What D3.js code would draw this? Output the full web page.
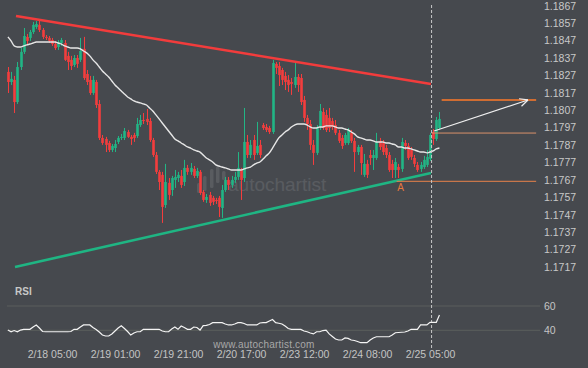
<!DOCTYPE html>
<html><head><meta charset="utf-8">
<script src="https://cdn.jsdelivr.net/npm/d3@7/dist/d3.min.js"></script>
<style>
html,body{margin:0;padding:0;background:#46494e;}
svg{display:block;}
text{font-family:"Liberation Sans",Arial,sans-serif;}
</style></head>
<body>
<svg id="c" width="588" height="368"></svg>
<script>
// ---- data ----
const opens = [1.18288,1.18230,1.18242,1.18115,1.18316,1.18403,1.18489,1.18483,1.18517,1.18546,1.18558,1.18529,1.18489,1.18483,1.18471,1.18448,1.18431,1.18454,1.18454,1.18380,1.18357,1.18328,1.18368,1.18357,1.18420,1.18276,1.18242,1.18167,1.18230,1.18104,1.17909,1.17903,1.17880,1.17840,1.17851,1.17886,1.17909,1.17909,1.17943,1.17915,1.17926,1.17920,1.17983,1.18012,1.18018,1.18006,1.17897,1.17811,1.17714,1.17697,1.17524,1.17651,1.17610,1.17668,1.17679,1.17691,1.17656,1.17737,1.17714,1.17731,1.17691,1.17714,1.17599,1.17553,1.17582,1.17565,1.17553,1.17565,1.17507,1.17610,1.17668,1.17639,1.17668,1.17685,1.17725,1.17679,1.17886,1.17811,1.17897,1.17823,1.17869,1.17983,1.17972,1.17966,1.17943,1.18334,1.18322,1.18299,1.18265,1.18242,1.18230,1.18213,1.18259,1.18253,1.18127,1.18024,1.17989,1.17869,1.17823,1.17972,1.18058,1.18041,1.18024,1.18006,1.17983,1.17938,1.17909,1.17880,1.17880,1.17938,1.17892,1.17828,1.17857,1.17697,1.17760,1.17811,1.17794,1.17794,1.17892,1.17880,1.17851,1.17811,1.17760,1.17725,1.17742,1.17731,1.17880,1.17863,1.17840,1.17794,1.17754,1.17731,1.17742,1.17754,1.17788,1.17943,1.17903,1.17966];
const highs = [1.18316,1.18288,1.18265,1.18345,1.18425,1.18540,1.18506,1.18529,1.18575,1.18580,1.18586,1.18540,1.18500,1.18494,1.18483,1.18466,1.18471,1.18483,1.18471,1.18403,1.18380,1.18385,1.18385,1.18483,1.18489,1.18299,1.18265,1.18265,1.18242,1.18127,1.17926,1.17915,1.17892,1.17874,1.17897,1.17920,1.17932,1.17966,1.17955,1.17926,1.17938,1.18024,1.18041,1.18052,1.18075,1.18024,1.17909,1.17828,1.17725,1.17714,1.17760,1.17679,1.17691,1.17725,1.17714,1.17725,1.17783,1.17754,1.17765,1.17748,1.17737,1.17725,1.17610,1.17587,1.17599,1.17576,1.17565,1.17576,1.17639,1.17685,1.17685,1.17691,1.17714,1.17828,1.17737,1.18081,1.17926,1.17897,1.17926,1.18001,1.17897,1.17995,1.17989,1.17978,1.18357,1.18345,1.18345,1.18311,1.18288,1.18270,1.18253,1.18339,1.18276,1.18276,1.18150,1.18041,1.18012,1.17897,1.17983,1.18104,1.18081,1.18070,1.18081,1.18024,1.18012,1.17955,1.17926,1.17938,1.17966,1.17955,1.17909,1.17869,1.17869,1.17817,1.17783,1.17840,1.17840,1.17938,1.17909,1.17897,1.17869,1.17828,1.17783,1.17794,1.17760,1.17909,1.17897,1.17880,1.17857,1.17811,1.17771,1.17771,1.17806,1.17840,1.17938,1.17960,1.18029,1.18058];
const lows = [1.18167,1.18213,1.18052,1.18104,1.18299,1.18391,1.18448,1.18466,1.18506,1.18535,1.18517,1.18477,1.18471,1.18454,1.18437,1.18414,1.18414,1.18437,1.18351,1.18299,1.18299,1.18316,1.18311,1.18345,1.18242,1.18213,1.18156,1.18156,1.18081,1.17897,1.17869,1.17828,1.17828,1.17828,1.17828,1.17874,1.17897,1.17897,1.17909,1.17869,1.17886,1.17909,1.17972,1.17989,1.17983,1.17886,1.17800,1.17702,1.17610,1.17421,1.17507,1.17553,1.17576,1.17622,1.17656,1.17622,1.17633,1.17697,1.17697,1.17679,1.17679,1.17582,1.17542,1.17536,1.17519,1.17524,1.17530,1.17455,1.17450,1.17599,1.17610,1.17622,1.17651,1.17668,1.17553,1.17656,1.17794,1.17794,1.17783,1.17811,1.17794,1.17955,1.17943,1.17932,1.17932,1.18276,1.18207,1.18213,1.18184,1.18173,1.18156,1.18196,1.18173,1.18098,1.18001,1.17955,1.17840,1.17754,1.17811,1.17955,1.17955,1.17943,1.17943,1.17955,1.17926,1.17880,1.17846,1.17869,1.17869,1.17880,1.17714,1.17811,1.17697,1.17685,1.17679,1.17754,1.17725,1.17783,1.17840,1.17811,1.17794,1.17714,1.17679,1.17679,1.17679,1.17714,1.17840,1.17783,1.17783,1.17742,1.17714,1.17714,1.17731,1.17742,1.17777,1.17869,1.17892,1.17955];
const closes = [1.18230,1.18248,1.18115,1.18316,1.18403,1.18494,1.18466,1.18517,1.18558,1.18563,1.18529,1.18489,1.18483,1.18466,1.18448,1.18425,1.18460,1.18471,1.18357,1.18345,1.18322,1.18368,1.18334,1.18408,1.18253,1.18230,1.18167,1.18242,1.18098,1.17909,1.17880,1.17869,1.17840,1.17863,1.17874,1.17909,1.17915,1.17949,1.17915,1.17903,1.17909,1.17989,1.18012,1.18006,1.18001,1.17897,1.17811,1.17714,1.17656,1.17513,1.17656,1.17582,1.17679,1.17685,1.17697,1.17639,1.17737,1.17714,1.17737,1.17691,1.17719,1.17593,1.17553,1.17570,1.17536,1.17542,1.17547,1.17513,1.17610,1.17668,1.17639,1.17668,1.17685,1.17737,1.17668,1.17886,1.17811,1.17869,1.17811,1.17863,1.17811,1.17966,1.17955,1.17943,1.18339,1.18311,1.18270,1.18242,1.18230,1.18213,1.18219,1.18259,1.18213,1.18115,1.18024,1.17989,1.17869,1.17823,1.17972,1.18064,1.17966,1.17955,1.17966,1.17972,1.17938,1.17892,1.17863,1.17926,1.17955,1.17892,1.17828,1.17857,1.17765,1.17760,1.17697,1.17794,1.17811,1.17886,1.17857,1.17828,1.17811,1.17725,1.17725,1.17771,1.17725,1.17886,1.17863,1.17794,1.17800,1.17760,1.17725,1.17754,1.17783,1.17800,1.17926,1.17903,1.18012,1.18018];
const maValues = [1.18489,1.18466,1.18437,1.18431,1.18431,1.18437,1.18443,1.18448,1.18454,1.18460,1.18460,1.18460,1.18460,1.18460,1.18460,1.18460,1.18454,1.18448,1.18437,1.18431,1.18425,1.18425,1.18425,1.18420,1.18408,1.18397,1.18380,1.18357,1.18339,1.18316,1.18293,1.18276,1.18259,1.18236,1.18213,1.18196,1.18179,1.18161,1.18144,1.18133,1.18121,1.18115,1.18110,1.18104,1.18098,1.18081,1.18064,1.18041,1.18018,1.17995,1.17972,1.17949,1.17926,1.17903,1.17892,1.17880,1.17869,1.17857,1.17851,1.17840,1.17834,1.17828,1.17811,1.17794,1.17783,1.17771,1.17754,1.17748,1.17742,1.17737,1.17731,1.17725,1.17725,1.17725,1.17725,1.17731,1.17737,1.17742,1.17754,1.17765,1.17771,1.17788,1.17806,1.17823,1.17851,1.17880,1.17909,1.17926,1.17943,1.17955,1.17972,1.17983,1.17989,1.17989,1.17989,1.17983,1.17972,1.17966,1.17966,1.17972,1.17972,1.17978,1.17978,1.17978,1.17972,1.17966,1.17966,1.17960,1.17955,1.17943,1.17932,1.17915,1.17909,1.17903,1.17897,1.17897,1.17892,1.17886,1.17886,1.17886,1.17880,1.17880,1.17874,1.17869,1.17857,1.17857,1.17851,1.17851,1.17846,1.17840,1.17834,1.17828,1.17828,1.17823,1.17828,1.17834,1.17846,1.17851];
const rsiValues = [40.2,38.8,39.8,38.8,40.2,40.8,40.8,40.8,42.7,44.4,41.9,39.0,38.8,38.8,38.8,38.8,38.8,38.8,38.8,38.8,39.0,40.8,40.8,42.7,44.4,44.4,44.4,42.3,40.7,38.6,36.1,35.3,35.3,37.0,39.4,41.9,43.8,41.5,39.0,36.1,37.8,38.8,38.8,40.8,40.8,40.8,40.8,40.8,40.8,39.4,38.8,38.8,41.1,42.7,40.8,43.5,42.3,40.8,40.8,42.7,42.3,40.2,43.8,44.1,44.8,46.3,46.3,46.3,46.3,45.2,44.4,44.4,45.2,46.3,46.3,45.6,44.4,44.4,44.4,44.4,46.0,46.3,46.3,47.7,48.9,46.3,45.8,45.2,43.5,41.5,40.8,40.8,40.8,40.7,39.4,38.8,37.8,37.0,38.8,38.8,39.8,40.2,37.0,34.9,32.8,32.0,32.0,33.7,33.3,32.0,31.6,30.8,29.8,29.8,29.8,32.0,33.7,34.7,34.7,34.7,34.7,34.7,36.1,38.0,38.2,38.4,38.6,39.4,40.8,40.8,40.8,44.4,44.4,44.4,46.6,46.6,46.6,52.5];
const xTickIdx = [14,34,54,74,94,114,134];
const xTickLabels = ["2/18 05:00","2/19 01:00","2/19 21:00","2/20 17:00","2/23 12:00","2/24 08:00","2/25 05:00"];
const priceTicks = [1.1867,1.1857,1.1847,1.1837,1.1827,1.1817,1.1807,1.1797,1.1787,1.1777,1.1767,1.1757,1.1747,1.1737,1.1727,1.1717];
const rsiTicks = [60,40];
const resistance = [[2.57,1.18609],[134.3,1.18219]];
const support = [[2.25,1.17168],[134.3,1.17708]];
const targetLevel = {from:137.7,to:167.7,price:1.18127};
const entryLevel = {from:134.5,to:167.7,price:1.17937};
const pointALevel = {from:123.4,to:167.7,price:1.17660};
const forecastArrow = [[135.3,1.17949],[165.1,1.18127]];
const pointA = {idx:124.7,price:1.17605,label:"A"};
const nowIdx = 134.5;

// ---- chart ----
const svg = d3.select("#c");
const x = d3.scaleLinear().domain([0,137]).range([7.9, 7.9+137*3.15]);
const y = d3.scaleLinear().domain([1.1717,1.1867]).range([266.66,5.36]);
const yr = d3.scaleLinear().domain([20,80]).range([354.6,281.7]);
const GREEN="#22b585", RED="#f43d3d";

// watermark logo + text
const wm = svg.append("g").attr("fill","#ffffff").attr("opacity",0.1);
[[197,183,3.5,10],[203,176,3.5,15],[210,169,3.5,19],[216,166,3.5,17],[222,171,3.5,9]].forEach(b=>{
  wm.append("rect").attr("x",b[0]).attr("y",b[1]).attr("width",b[2]).attr("height",b[3]).attr("rx",1.5);
});
wm.append("text").attr("x",228).attr("y",191).attr("font-size",19).attr("font-family","DejaVu Sans, sans-serif").text("autochartist");

// RSI grid
const rg = svg.append("g");
rsiTicks.forEach(t=>{
  rg.append("line").attr("x1",7).attr("x2",540).attr("y1",yr(t)).attr("y2",yr(t)).attr("stroke","#5b5f5d").attr("stroke-width",1);
});
const rAxis = svg.append("g").attr("transform","translate(544,0)")
  .call(d3.axisRight(yr).tickValues(rsiTicks).tickSize(0).tickPadding(0));
rAxis.select(".domain").remove();
rAxis.selectAll("text").attr("fill","#c4c4c4").attr("font-size",10.5).attr("dy","0.35em");

svg.append("text").attr("x",15).attr("y",295).attr("fill","#c8c8c8").attr("font-size",10).attr("font-weight","bold").text("RSI");

// price axis
const pAxis = svg.append("g").attr("transform","translate(544,0)")
  .call(d3.axisRight(y).tickValues(priceTicks).tickFormat(d3.format(".4f")).tickSize(0).tickPadding(0));
pAxis.select(".domain").remove();
pAxis.selectAll("text").attr("fill","#c8c8c8").attr("font-size",10.5).attr("dy","0.35em");

// x axis
const xAxis = svg.append("g").attr("transform","translate(0,351)")
  .call(d3.axisBottom(x).tickValues(xTickIdx).tickFormat((d,i)=>xTickLabels[i]).tickSize(0).tickPadding(0));
xAxis.select(".domain").remove();
xAxis.selectAll("text").attr("fill","#c4c4c4").attr("font-size",10.5).attr("dy","0.71em");

svg.append("text").attr("x",264).attr("y",348).attr("text-anchor","middle").attr("fill","#a8a8a8").attr("font-size",10).attr("letter-spacing",0.2).text("www.autochartist.com");

// candles
const candles = opens.map((o,i)=>({i,o,h:highs[i],l:lows[i],c:closes[i]}));
const cg = svg.append("g");
cg.selectAll("line.w").data(candles).join("line")
  .attr("x1",d=>Math.round(x(d.i))+0.5).attr("x2",d=>Math.round(x(d.i))+0.5)
  .attr("y1",d=>y(d.h)).attr("y2",d=>y(d.l))
  .attr("stroke",d=>d.c>=d.o?GREEN:RED).attr("stroke-width",1);
cg.selectAll("rect").data(candles).join("rect")
  .attr("x",d=>Math.round(x(d.i))+0.5-1.3).attr("width",2.6)
  .attr("y",d=>y(Math.max(d.o,d.c))).attr("height",d=>Math.max(1,Math.abs(y(d.o)-y(d.c))))
  .attr("fill",d=>d.c>=d.o?GREEN:RED);

// moving average
svg.append("path").datum(maValues).attr("fill","none").attr("stroke","#e6e6e6").attr("stroke-width",1.4)
  .attr("d",d3.line().x((d,i)=>x(i)).y(d=>y(d)).curve(d3.curveMonotoneX));

// trend lines
const tl = d3.line().x(d=>x(d[0])).y(d=>y(d[1]));
svg.append("path").datum(resistance).attr("d",tl).attr("stroke","#f23c3c").attr("stroke-width",2.6).attr("fill","none");
svg.append("path").datum(support).attr("d",tl).attr("stroke","#1fb583").attr("stroke-width",2.6).attr("fill","none");

// levels
[[pointALevel,"#e8834a",1],[entryLevel,"#d9906a",1],[targetLevel,"#ff7a2a",1.5]].forEach(([lv,col,w])=>{
  svg.append("line").attr("x1",x(lv.from)).attr("x2",x(lv.to)).attr("y1",y(lv.price)).attr("y2",y(lv.price))
    .attr("stroke",col).attr("stroke-width",w);
});

// now line
svg.append("line").attr("x1",x(nowIdx)).attr("x2",x(nowIdx)).attr("y1",5).attr("y2",350)
  .attr("stroke","#c8c8c8").attr("stroke-width",1).attr("stroke-dasharray","3,2");

// arrow
const a0=[x(forecastArrow[0][0]),y(forecastArrow[0][1])], a1=[x(forecastArrow[1][0]),y(forecastArrow[1][1])];
svg.append("line").attr("x1",a0[0]).attr("y1",a0[1]).attr("x2",a1[0]).attr("y2",a1[1]).attr("stroke","#f0f0f0").attr("stroke-width",1.2);
const ang=Math.atan2(a1[1]-a0[1],a1[0]-a0[0]);
[0.45,-0.45].forEach(s=>{
  svg.append("line").attr("x1",a1[0]).attr("y1",a1[1])
    .attr("x2",a1[0]-9*Math.cos(ang+s)).attr("y2",a1[1]-9*Math.sin(ang+s))
    .attr("stroke","#f0f0f0").attr("stroke-width",1.2);
});

// point A label
svg.append("text").attr("x",x(pointA.idx)).attr("y",y(pointA.price)).attr("text-anchor","middle")
  .attr("fill","#e8783c").attr("font-size",10).text(pointA.label);

// RSI line
svg.append("path").datum(rsiValues).attr("fill","none").attr("stroke","#f4f4f4").attr("stroke-width",1.2)
  .attr("d",d3.line().x((d,i)=>x(i)).y(d=>yr(d)));
</script>
</body></html>
